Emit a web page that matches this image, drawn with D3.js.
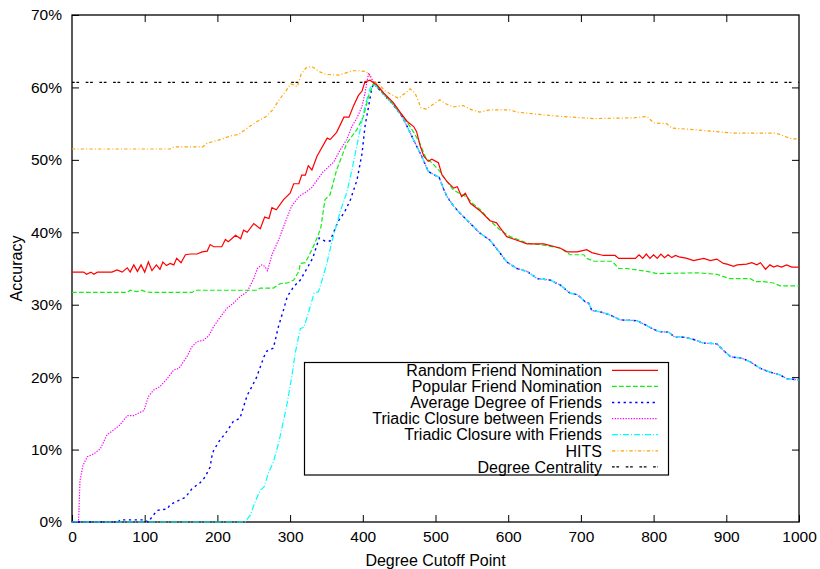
<!DOCTYPE html>
<html>
<head>
<meta charset="utf-8">
<script src="https://cdn.jsdelivr.net/npm/d3@7"></script>
<style>
  body { margin: 0; background: #fff; }
  svg text { font-family: "Liberation Sans", Arial, Helvetica, sans-serif; fill: #000; }
</style>
</head>
<body>
<svg id="chart" width="820" height="569"></svg>
<script>
// tick values
var xTicks = [0, 100, 200, 300, 400, 500, 600, 700, 800, 900, 1000];
var yTicks = [0, 10, 20, 30, 40, 50, 60, 70];

var seriesNames = [
  "Random Friend Nomination",
  "Popular Friend Nomination",
  "Average Degree of Friends",
  "Triadic Closure between Friends",
  "Triadic Closure with Friends",
  "HITS",
  "Degree Centrality"
];

// [degree cutoff, accuracy %]
var randomFriend = [[0,34.5],[16,34.5],[20,34.2],[26,34.5],[30,34.2],[35,34.5],[55,34.5],[62,34.8],[69,34.5],[76,35.1],[80,34.5],[85,35.5],[90,34.6],[95,35.5],[100,34.5],[105,35.9],[110,34.7],[116,35.5],[121,34.9],[125,35.9],[130,35.4],[135,35.7],[140,35.5],[144,36.4],[150,35.8],[156,36.9],[163,37.0],[172,37.0],[179,37.3],[186,37.4],[190,38.3],[195,38.0],[206,38.0],[211,39.0],[215,38.7],[225,39.6],[232,39.1],[236,40.3],[241,40.0],[250,41.2],[259,40.5],[265,42.1],[271,41.9],[275,43.4],[281,43.1],[291,44.5],[300,45.4],[305,46.7],[312,46.7],[316,47.9],[321,47.9],[325,49.2],[330,48.6],[337,50.5],[351,53.0],[355,52.8],[364,53.8],[374,55.9],[381,55.9],[387,57.4],[394,58.9],[399,59.5],[403,60.8],[410,61.0],[415,60.6],[419,60.4],[429,59.2],[442,57.9],[452,56.5],[461,55.3],[470,54.6],[474,53.9],[479,51.9],[484,50.5],[490,49.8],[495,50.1],[504,49.6],[509,47.9],[516,47.0],[525,46.1],[530,46.3],[536,44.9],[541,45.4],[548,44.0],[562,42.9],[575,41.6],[584,41.3],[589,40.6],[598,39.4],[612,38.9],[626,38.4],[649,38.4],[672,37.8],[681,37.3],[695,37.3],[708,37.6],[715,37.2],[731,36.8],[747,36.8],[752,36.4],[775,36.4],[780,36.9],[785,36.4],[790,37.0],[795,36.4],[800,36.9],[805,36.4],[810,37.0],[815,36.5],[820,36.9],[825,36.5],[830,36.8],[835,36.6],[846,36.4],[855,36.1],[869,36.4],[878,36.1],[887,36.3],[896,35.7],[901,35.6],[910,35.3],[915,35.5],[928,35.6],[935,35.8],[942,35.5],[947,35.8],[954,34.9],[960,35.5],[965,35.2],[970,35.4],[976,35.2],[983,35.5],[990,35.2],[1000,35.2]];

var popularFriend = [[0,31.7],[76,31.7],[80,32.0],[89,31.8],[96,32.0],[101,31.8],[108,31.7],[165,31.7],[170,32.0],[254,32.0],[259,32.3],[277,32.3],[286,32.9],[296,33.0],[305,33.4],[312,34.6],[314,35.7],[321,35.8],[330,37.6],[337,39.2],[342,40.5],[348,44.5],[355,45.2],[364,48.6],[378,52.3],[392,54.2],[401,56.0],[408,58.8],[415,60.6],[419,60.3],[429,59.1],[442,57.7],[452,56.4],[461,55.2],[470,53.8],[478,52.4],[487,50.2],[495,49.6],[506,48.4],[516,47.0],[524,45.9],[534,45.3],[543,44.9],[552,43.9],[562,43.1],[575,41.6],[589,40.3],[603,39.4],[626,38.5],[650,38.2],[667,37.9],[672,37.8],[685,36.9],[704,36.9],[708,36.4],[718,36.0],[743,36.0],[752,35.0],[763,35.0],[777,34.8],[791,34.6],[805,34.3],[860,34.4],[887,34.2],[905,33.6],[933,33.6],[940,33.2],[951,33.2],[965,33.0],[974,32.6],[1000,32.6]];

// the three triadic / degree curves share the same falling part
var lowerTail = [[419,60.1],[429,59.0],[442,57.6],[454,56.0],[463,54.2],[472,52.3],[481,50.5],[490,48.4],[497,48.0],[505,47.6],[511,46.0],[516,44.9],[525,43.6],[534,42.6],[547,41.3],[561,39.9],[575,38.9],[589,37.1],[598,35.9],[612,35.0],[626,34.6],[640,33.6],[658,33.4],[672,32.7],[685,31.6],[695,31.4],[706,30.4],[711,30.2],[715,29.2],[727,29.0],[740,28.6],[754,27.9],[777,27.8],[789,27.2],[798,26.7],[807,26.3],[821,26.2],[828,25.6],[843,25.5],[855,25.2],[869,24.7],[887,24.6],[896,23.7],[906,22.8],[922,22.6],[933,22.1],[947,21.2],[960,20.7],[974,20.3],[983,19.8],[1000,19.6]];

var averageDegreeRise = [[0,0],[64,0],[66,0.3],[98,0.3],[105,0],[110,0.7],[117,1.6],[131,1.8],[135,2.4],[149,3.1],[156,3.4],[165,4.6],[176,5.4],[183,6.2],[190,7.6],[193,9.4],[195,9.9],[202,11.1],[213,12.5],[222,13.9],[231,14.3],[236,15.9],[241,17.5],[248,18.8],[254,20.0],[264,22.8],[268,23.6],[277,24.0],[284,27.0],[291,29.3],[296,31.1],[305,32.5],[314,33.4],[331,36.4],[340,39.2],[348,38.8],[355,38.8],[366,41.5],[375,42.8],[383,44.5],[392,47.2],[399,50.9],[403,54.6],[408,57.4],[412,59.7],[415,60.6]];

var triadicBetweenRise = [[0,0],[9,0],[11,5.7],[15,7.8],[21,9.0],[30,9.4],[39,10.1],[48,12.0],[57,12.7],[66,13.4],[76,14.7],[85,14.7],[99,15.4],[105,17.3],[112,18.2],[121,18.7],[131,19.8],[140,21.0],[147,21.2],[158,22.8],[165,24.2],[172,24.9],[181,25.1],[188,25.7],[195,27.0],[204,28.3],[213,29.5],[222,30.2],[231,31.1],[241,31.8],[250,33.6],[255,35.0],[261,35.5],[265,35.3],[269,34.7],[275,36.9],[284,38.9],[293,41.3],[302,43.6],[313,45.0],[321,45.5],[330,46.2],[345,48.3],[360,49.7],[369,51.4],[378,52.8],[385,54.6],[392,55.8],[399,57.4],[403,59.2],[408,62.0],[411,61.5],[415,60.6]];

var triadicWithRise = [[0,0],[238,0],[245,0.9],[252,2.8],[259,4.4],[264,4.8],[270,6.7],[277,8.3],[284,10.8],[289,13.1],[296,16.4],[303,20.5],[307,23.3],[314,26.7],[319,26.9],[325,28.8],[333,31.6],[339,31.8],[344,33.4],[350,35.5],[358,38.9],[369,42.9],[378,45.5],[385,48.6],[395,53.5],[403,57.4],[410,59.9],[415,60.6]];

var hits = [[0,51.5],[135,51.5],[140,51.8],[180,51.8],[186,52.3],[204,52.8],[218,53.3],[229,53.5],[244,54.6],[258,55.5],[267,56.0],[276,56.9],[285,58.3],[294,59.5],[301,60.5],[310,60.1],[315,61.8],[322,62.7],[330,62.9],[340,62.2],[349,61.8],[368,61.7],[377,62.0],[386,62.3],[395,62.3],[404,62.2],[408,61.8],[415,60.8],[422,60.4],[431,59.5],[440,59.0],[449,58.5],[458,59.2],[465,59.8],[472,59.2],[480,57.2],[487,57.0],[496,57.6],[506,58.3],[515,57.7],[524,57.3],[538,57.5],[550,56.9],[561,56.6],[575,56.9],[602,56.9],[612,56.6],[649,56.2],[672,56.0],[718,55.7],[773,55.8],[791,56.0],[800,55.1],[818,55.0],[825,54.4],[864,54.1],[909,53.7],[968,53.7],[990,52.9],[1000,52.9]];

var degreeCentrality = [[0,60.7],[1000,60.7]];

var averageDegree = averageDegreeRise.concat(lowerTail);
var triadicBetween = triadicBetweenRise.concat(lowerTail);
var triadicWith = triadicWithRise.concat(lowerTail);

var colors = ["#ff0000", "#11ee11", "#0000ff", "#ff00ff", "#00ffff", "#ffa500", "#000000"];
var dashes = ["none", "4.7,2.3", "2.3,3.5", "1.3,1.4", "6,2,1,2", "3.3,2.2,1,2.2", "2.7,1.7,2.7,6.6"];
var widths = [1.2, 1.2, 1.4, 1.2, 1.2, 1.2, 1.2];
// drawing order, back to front: red last, cyan above blue and magenta
var drawOrder = [6, 5, 3, 2, 4, 1, 0];

var seriesData = [randomFriend, popularFriend, averageDegree, triadicBetween, triadicWith, hits, degreeCentrality];
var series = seriesNames.map((name, i) => ({ name: name, values: seriesData[i], color: colors[i], dash: dashes[i], width: widths[i] }));

var svg = d3.select("#chart");
var margin = { top: 15, right: 21, bottom: 47, left: 72 };
var width = +svg.attr("width") - margin.left - margin.right;
var height = +svg.attr("height") - margin.top - margin.bottom;

var x = d3.scaleLinear().domain([0, 1000]).range([0, width]);
var y = d3.scaleLinear().domain([0, 70]).range([height, 0]);

var g = svg.append("g")
  .attr("transform", "translate(" + margin.left + "," + margin.top + ")");

// axes with inward ticks on all four sides
g.append("g")
  .attr("class", "x axis")
  .attr("transform", `translate(0, ${height})`)
  .call(d3.axisBottom(x).tickValues(xTicks).tickSizeInner(-7).tickSizeOuter(0).tickPadding(8.5).tickFormat(d3.format("d")));

g.append("g")
  .attr("class", "x axis top")
  .call(d3.axisTop(x).tickValues(xTicks.slice(1, -1)).tickSizeInner(-7).tickSizeOuter(0).tickFormat(""));

g.append("g")
  .attr("class", "y axis")
  .call(d3.axisLeft(y).tickValues(yTicks).tickSizeInner(-7).tickSizeOuter(0).tickPadding(10).tickFormat(d => d + "%"));

g.append("g")
  .attr("class", "y axis right")
  .attr("transform", `translate(${width}, 0)`)
  .call(d3.axisRight(y).tickValues(yTicks.slice(1, -1)).tickSizeInner(-7).tickSizeOuter(0).tickFormat(""));

g.selectAll(".axis .domain").remove();
g.selectAll(".axis line").attr("stroke", "#000").attr("stroke-width", 1);
g.selectAll(".axis text")
  .style("font-size", "15.5px")
  .style("font-family", "'Liberation Sans', Arial, sans-serif")
  .attr("fill", "#000");

g.append("rect")
  .attr("x", 0)
  .attr("y", 0)
  .attr("width", width)
  .attr("height", height)
  .attr("fill", "none")
  .attr("stroke", "#000")
  .attr("stroke-width", 1.3);

svg.append("text")
  .attr("x", margin.left + width / 2)
  .attr("y", 566)
  .attr("text-anchor", "middle")
  .style("font-size", "16px")
  .text("Degree Cutoff Point");

svg.append("text")
  .attr("transform", "translate(22," + (margin.top + height / 2) + ") rotate(-90)")
  .attr("text-anchor", "middle")
  .style("font-size", "16px")
  .text("Accuracy");

var line = d3.line()
  .x(d => x(d[0]))
  .y(d => y(d[1]));

g.selectAll(".series")
  .data(drawOrder.map(i => series[i]))
  .enter()
  .append("path")
  .attr("class", "series")
  .attr("d", d => line(d.values))
  .attr("fill", "none")
  .attr("stroke", d => d.color)
  .attr("stroke-width", d => d.width)
  .attr("stroke-dasharray", d => d.dash);

// legend
var legend = svg.append("g").attr("class", "legend");

legend.append("rect")
  .attr("x", 304.5)
  .attr("y", 362.5)
  .attr("width", 364)
  .attr("height", 112.5)
  .attr("fill", "none")
  .attr("stroke", "#000")
  .attr("stroke-width", 1.2);

var rows = legend.selectAll(".row")
  .data(series)
  .enter()
  .append("g")
  .attr("class", "row")
  .attr("transform", (d, i) => "translate(0," + (370.3 + i * 16.1) + ")");

rows.append("text")
  .attr("x", 602)
  .attr("dy", "0.36em")
  .attr("text-anchor", "end")
  .style("font-size", "16px")
  .text(d => d.name);

rows.append("line")
  .attr("x1", 612)
  .attr("x2", 658)
  .attr("stroke", d => d.color)
  .attr("stroke-width", d => d.width)
  .attr("stroke-dasharray", d => d.dash);
</script>
</body>
</html>
